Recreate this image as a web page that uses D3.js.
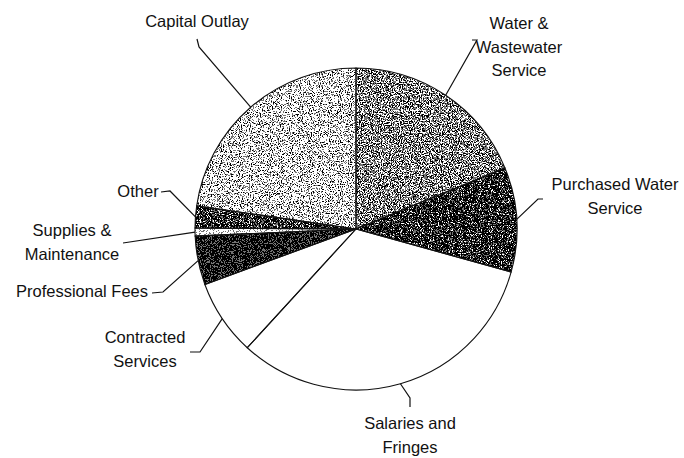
<!DOCTYPE html>
<html>
<head>
<meta charset="utf-8">
<script src="https://cdn.jsdelivr.net/npm/d3@7"></script>
<style>
  body { margin: 0; background: #fff; }
  svg { display: block; }
  .label { font-family: 'Liberation Sans', Arial, sans-serif; font-size: 16.5px; fill: #111; }
  .leader { fill: none; stroke: #111; stroke-width: 1.2; }
</style>
</head>
<body>
<div id="chart"></div>
<script>
// Expense categories, clockwise from 12 o'clock
const categories = ['Water & Wastewater Service', 'Purchased Water Service', 'Salaries and Fringes',
  'Contracted Services', 'Professional Fees', 'Supplies & Maintenance', 'Other', 'Capital Outlay']
// Share of total (percent)
const shares = [18.8, 10.5, 32.5, 7.6, 4.9, 0.8, 2.2, 22.7]
// Label text lines
const labelLines = [
  ['Water &', 'Wastewater', 'Service'],
  ['Purchased Water', 'Service'],
  ['Salaries and', 'Fringes'],
  ['Contracted', 'Services'],
  ['Professional Fees'],
  ['Supplies &', 'Maintenance'],
  ['Other'],
  ['Capital Outlay']
]

const width = 684
const height = 458
const cx = 356
const cy = 229
const radius = 161

// gray level of each slice (1 = white), dithered by the filter below
const tone = [0.55, 0.18, 1, 1, 0.14, 0.92, 0.22, 0.8]

// label placement: text anchor, first baseline, leader knee and leader end
const labelPos = [
  { x: 519, y: 29, knee: [477, 40], end: [472, 40] },
  { x: 615, y: 190, knee: [538, 199], end: [543, 199] },
  { x: 410, y: 429, knee: [410, 398], end: [410, 407] },
  { x: 145, y: 343, knee: [200, 352], end: [190, 352] },
  { x: 82, y: 297, knee: [163, 292], end: [152, 293] },
  { x: 72, y: 236, knee: [123, 243], end: [123, 243] },
  { x: 138, y: 197, knee: [170, 191], end: [161, 192] },
  { x: 197, y: 27, knee: [199, 47], end: [197, 39] }
]

const svg = d3.select('#chart')
  .append('svg')
  .attr('width', width)
  .attr('height', height)

// speckle filter: adds noise to the gray fill and thresholds it, like the scanned original
const defs = svg.append('defs')
const f = defs.append('filter')
  .attr('id', 'speckle')
  .attr('color-interpolation-filters', 'sRGB')
  .attr('x', 0).attr('y', 0).attr('width', 1).attr('height', 1)
f.append('feTurbulence')
  .attr('type', 'fractalNoise')
  .attr('baseFrequency', 0.9)
  .attr('numOctaves', 2)
  .attr('seed', 4)
  .attr('result', 'noise')
f.append('feColorMatrix')
  .attr('in', 'noise')
  .attr('type', 'matrix')
  .attr('values', '1 0 0 0 0  1 0 0 0 0  1 0 0 0 0  0 0 0 0 1')
  .attr('result', 'gray')
const stretch = f.append('feComponentTransfer').attr('in', 'gray').attr('result', 'wide')
;['R', 'G', 'B'].forEach(c => stretch.append(`feFunc${c}`).attr('type', 'linear').attr('slope', 3.2).attr('intercept', -1.1))
f.append('feComposite')
  .attr('in', 'SourceGraphic')
  .attr('in2', 'wide')
  .attr('operator', 'arithmetic')
  .attr('k1', 0).attr('k2', 1).attr('k3', 1).attr('k4', -0.5)
  .attr('result', 'sum')
const thresh = f.append('feComponentTransfer').attr('in', 'sum').attr('result', 'bw')
;['R', 'G', 'B'].forEach(c => thresh.append(`feFunc${c}`).attr('type', 'discrete').attr('tableValues', '0 0.45 1'))
f.append('feComposite')
  .attr('in', 'bw')
  .attr('in2', 'SourceAlpha')
  .attr('operator', 'in')

const pie = d3.pie().sort(null).value(d => d)
const arcs = pie(shares)
const arc = d3.arc().innerRadius(0).outerRadius(radius)
const edge = d3.arc().innerRadius(radius).outerRadius(radius)

const g = svg.append('g').attr('transform', `translate(${cx},${cy})`)

g.selectAll('path.slice')
  .data(arcs)
  .enter().append('path')
  .attr('class', 'slice')
  .attr('d', arc)
  .attr('fill', (d, i) => d3.rgb(tone[i] * 255, tone[i] * 255, tone[i] * 255))
  .attr('filter', (d, i) => tone[i] < 1 ? 'url(#speckle)' : null)

g.selectAll('path.edge')
  .data(arcs)
  .enter().append('path')
  .attr('class', 'edge')
  .attr('d', arc)
  .attr('fill', 'none')
  .attr('stroke', '#111')
  .attr('stroke-width', 1.1)

// leaders from the slice mid angle on the rim
svg.append('g').selectAll('path')
  .data(arcs)
  .enter().append('path')
  .attr('class', 'leader')
  .attr('d', (d, i) => {
    const [ex, ey] = edge.centroid(d)
    const p = labelPos[i]
    return `M${cx + ex},${cy + ey}L${p.knee[0]},${p.knee[1]}L${p.end[0]},${p.end[1]}`
  })

// labels
const labels = svg.append('g').selectAll('text')
  .data(labelLines)
  .enter().append('text')
  .attr('class', 'label')
  .attr('text-anchor', 'middle')
  .attr('x', (d, i) => labelPos[i].x)
  .attr('y', (d, i) => labelPos[i].y)

labels.selectAll('tspan')
  .data((d, i) => d.map(t => ({ t, x: labelPos[i].x })))
  .enter().append('tspan')
  .attr('x', d => d.x)
  .attr('dy', (d, j) => j === 0 ? 0 : 23.5)
  .text(d => d.t)
</script>
</body>
</html>
